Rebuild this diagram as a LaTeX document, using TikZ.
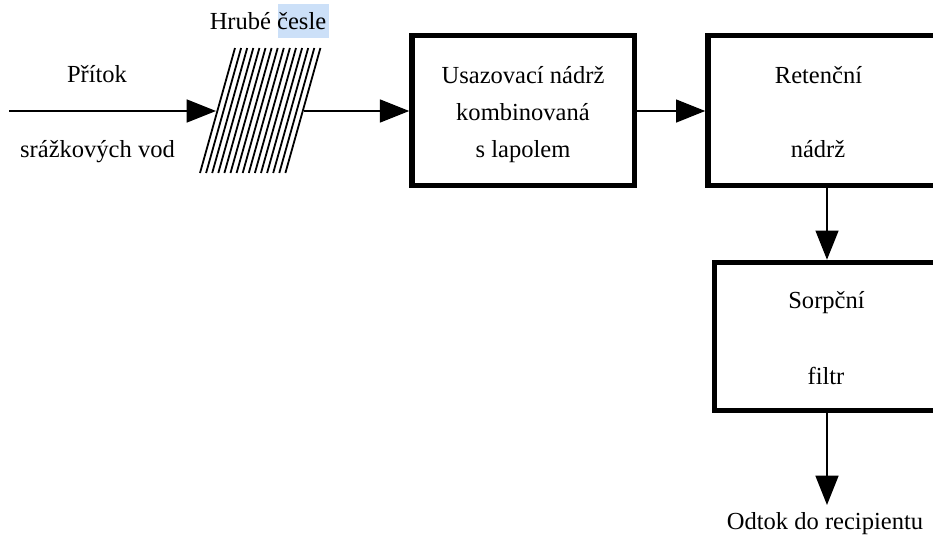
\documentclass[tikz,border=0pt]{standalone}
\usepackage{fontspec}
\setmainfont{Liberation Serif}
\usetikzlibrary{arrows.meta}
\definecolor{hl}{HTML}{CCE0F8}
\begin{document}
\begin{tikzpicture}[x=0.75pt,y=-0.75pt,
  box/.style={draw,line width=4pt,inner sep=0pt},
  arr/.style={line width=2pt,-{Triangle[length=22pt,width=17pt]}},
  lbl/.style={anchor=base,inner sep=0pt,font=\fontsize{18.4}{22}\selectfont},
  bar/.style={line width=1.35pt}]
\useasboundingbox (0,0) rectangle (933,536);
\clip (0,0) rectangle (933,536);
% highlight behind "česle"
\fill[hl] (278,4) rectangle (329,38);
\node[lbl] (hrube) at (268,29) {Hrubé česle};
\node[lbl] (pritok) at (97,82) {Přítok};
\node[lbl] (srazk) at (97.5,157) {srážkových vod};
% grate
\foreach \i in {0,...,14}
  \draw[bar] (235+\i*6.1,48) -- (200+\i*6.1,173);
\coordinate (in) at (9,111);
\coordinate (gin) at (216,111);
\coordinate (gout) at (304,111);
% boxes
\node[box,minimum width=166.9pt,minimum height=112.5pt] (b1) at (523.25,110.5) {};
\node[box,minimum width=189pt,minimum height=112.5pt] (b2) at (834,110.5) {};
\node[box,minimum width=184.1pt,minimum height=111pt] (b3) at (837.25,336.5) {};
\node[lbl] (t1a) at (523,83) {Usazovací nádrž};
\node[lbl] (t1b) at (523,120) {kombinovaná};
\node[lbl] (t1c) at (523,157) {s lapolem};
\node[lbl] (t2a) at (818.5,83) {Retenční};
\node[lbl] (t2b) at (818,157) {nádrž};
\node[lbl] (t3a) at (826.5,308) {Sorpční};
\node[lbl] (t3b) at (826,384) {filtr};
\coordinate (vx) at (827,0);
\coordinate (out) at (827,505);
\node[lbl] (odtok) at (825,529) {Odtok do recipientu};
% connectors
\draw[arr] (in) -- (gin);
\draw[arr] (gout) -- (b1.west |- gout);
\draw[arr] (b1.east |- gout) -- (b2.west |- gout);
\draw[arr] (b2.south -| vx) -- (b3.north -| vx);
\draw[arr] (b3.south -| vx) -- (out);
\end{tikzpicture}
\end{document}
